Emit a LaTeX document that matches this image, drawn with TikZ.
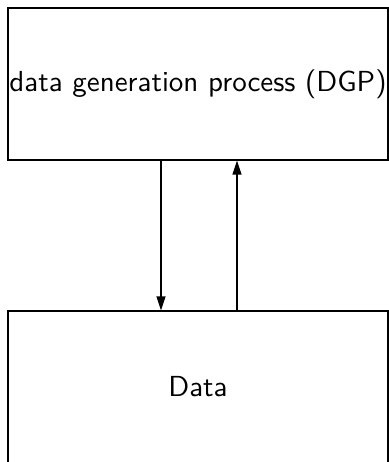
\documentclass[tikz,border=0pt]{standalone}
\usepackage{fontspec}
\usepackage{tikz}
\usetikzlibrary{arrows.meta}
\newfontfamily\boxfont{lmsans10-regular.otf}
\tikzstyle{block}=[draw, rectangle, line width=1.2pt, minimum width=380pt, minimum height=152pt, inner sep=0pt, font=\boxfont\fontsize{29}{34}\selectfont]
\tikzstyle{link}=[line width=1.2pt, -{Triangle[length=14pt,width=9pt]}]
\newcommand{\block}{\node[block]}
\begin{document}
\begin{tikzpicture}[x=1pt, y=1pt]
\useasboundingbox (0,0) rectangle (388,-462);
\block (dgp) at (198,-84) {data generation process (DGP)};
\block (data) at (198,-387) {Data};
\draw[link] ([xshift=-37pt]dgp.south) -- ([xshift=-37pt]data.north);
\draw[link] ([xshift=39pt]data.north) -- ([xshift=39pt]dgp.south);
\end{tikzpicture}
\end{document}
